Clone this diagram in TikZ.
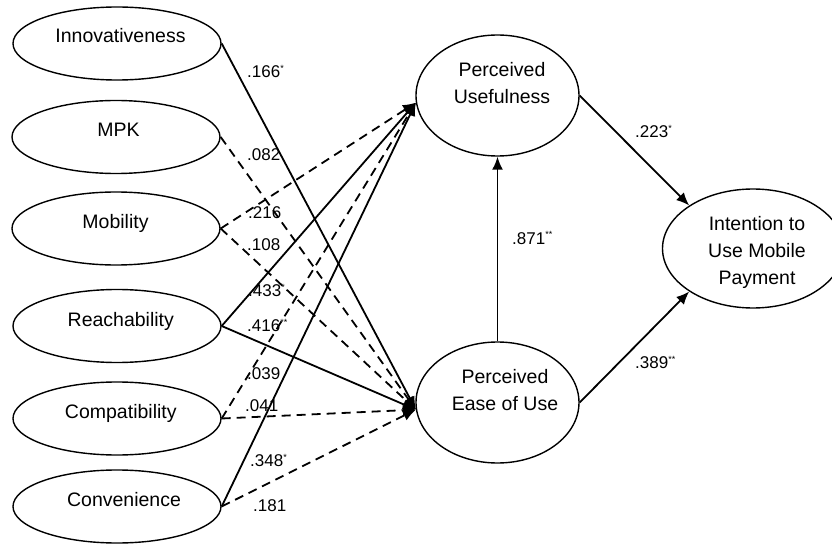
\documentclass[tikz,border=0pt]{standalone}
\usepackage{fontspec}
\setmainfont{Liberation Sans}
\usetikzlibrary{shapes.geometric,arrows.meta}
\newcommand\sigstar[1]{\raisebox{6pt}{\fontsize{9}{9}\selectfont #1}}
\begin{document}
\begin{tikzpicture}[x=1pt,y=-1pt,
  oval/.style={draw,ellipse,line width=1.4pt,inner sep=0pt},
  lft/.style={oval,minimum width=208pt,minimum height=73pt},
  rgt/.style={oval,minimum width=163pt,minimum height=121pt},
  txt/.style={font=\fontsize{19.5}{27}\selectfont,align=center,inner sep=0pt,anchor=base},
  coef/.style={font=\fontsize{17}{17}\selectfont,anchor=base west,inner sep=0pt},
  sol/.style={line width=1.8pt,-{Latex[length=13pt,width=11pt]}},
  dsh/.style={sol,dash pattern=on 9pt off 6pt}]
\useasboundingbox (0,0) rectangle (832,545);
% left ellipses
\node[lft] (inn) at (117,43.5) {};
\node[lft] (mpk) at (116,137) {};
\node[lft] (mob) at (116,228.5) {};
\node[lft] (rea) at (117,326) {};
\node[lft] (com) at (117,418.5) {};
\node[lft] (con) at (117,506.5) {};
\node[txt] (inn-t) at (120.5,43) {Innovativeness};
\node[txt] (mpk-t) at (118.5,137) {MPK};
\node[txt] (mob-t) at (115.5,229) {Mobility};
\node[txt] (rea-t) at (120.8,326) {Reachability};
\node[txt] (com-t) at (120.8,418.5) {Compatibility};
\node[txt] (con-t) at (124,506.5) {Convenience};
% right ellipses
\node[rgt] (pu) at (497.5,95.5) {};
\node[rgt] (peou) at (497.5,402.5) {};
\node[oval,minimum width=181pt,minimum height=119pt] (int) at (753,248.5) {};
\node[txt] (pu-t) at (502,104) {Perceived\\Usefulness};
\node[txt] (peou-t) at (505,410.3) {Perceived\\Ease of Use};
\node[txt] (int-t) at (757,284) {Intention to\\Use Mobile\\Payment};
% connectors
\draw[sol] (inn.east) -- (peou.185);
\draw[dsh] (mpk.east) -- (peou.185);
\draw[dsh] (mob.east) -- (pu.185);
\draw[dsh] (mob.east) -- (peou.185);
\draw[sol] (rea.east) -- (pu.185);
\draw[sol] (rea.east) -- (peou.185);
\draw[dsh] (com.east) -- (pu.185);
\draw[dsh] (com.east) -- (peou.185);
\draw[sol] (con.east) -- (pu.185);
\draw[dsh] (con.east) -- (peou.185);
\draw[sol] (peou.north) -- (pu.south);
\draw[sol] (pu.east) -- (int.146);
\draw[sol] (peou.east) -- (int.214);
% coefficients
\node[coef] (c1) at (247,78) {.166\sigstar{*}};
\node[coef] (c2) at (247,161) {.082};
\node[coef] (c3) at (248,219) {.216};
\node[coef] (c4) at (247,251) {.108};
\node[coef] (c5) at (248,296) {.433\sigstar{*}};
\node[coef] (c6) at (247,331) {.416\sigstar{**}};
\node[coef] (c7) at (247,379) {.039};
\node[coef] (c8) at (245,411) {.041};
\node[coef] (c9) at (250,466) {.348\sigstar{*}};
\node[coef] (c10) at (253,511) {.181};
\node[coef] (c11) at (635,138) {.223\sigstar{*}};
\node[coef] (c12) at (512,244) {.871\sigstar{**}};
\node[coef] (c13) at (635,368) {.389\sigstar{**}};
\end{tikzpicture}
\end{document}
